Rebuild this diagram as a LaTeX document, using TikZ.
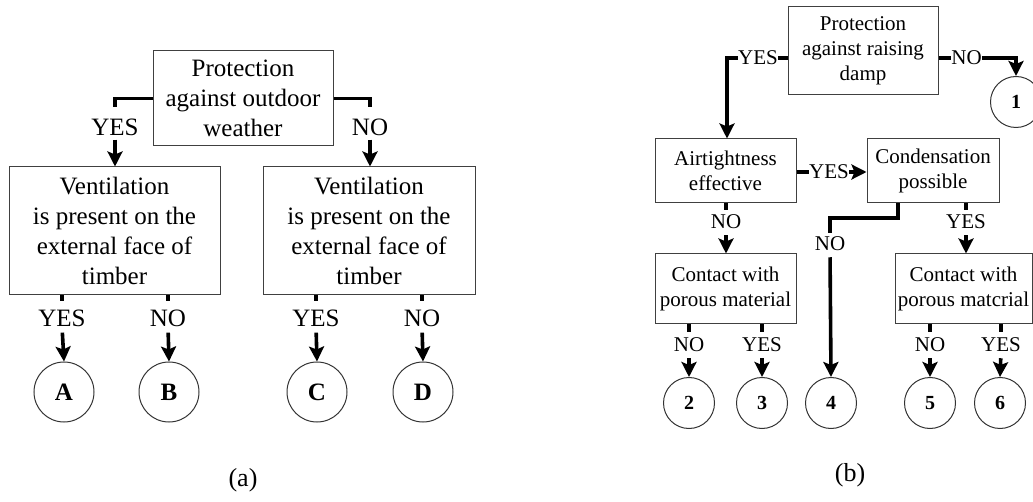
\documentclass[tikz,border=0pt]{standalone}
\usepackage{fontspec}
\setmainfont{Liberation Serif}
\usetikzlibrary{arrows.meta}
\begin{document}
\begin{tikzpicture}[x=1pt,y=-1pt,
  boxA/.style={draw=black!75,line width=1pt,fill=white,align=center,inner sep=0pt,font=\fontsize{25}{30}\selectfont},
  boxB/.style={draw=black!75,line width=1pt,fill=white,align=center,inner sep=0pt,font=\fontsize{21}{25}\selectfont},
  circA/.style={draw=black!80,line width=1pt,circle,minimum size=60pt,inner sep=0pt,font=\fontsize{25}{30}\selectfont\bfseries},
  circB/.style={draw=black!80,line width=1pt,circle,minimum size=51pt,inner sep=0pt,font=\fontsize{20}{24}\selectfont\bfseries},
  lblA/.style={inner sep=0pt,font=\fontsize{25}{30}\selectfont},
  lblB/.style={inner sep=0pt,font=\fontsize{21}{25}\selectfont},
  conn/.style={line width=3.6pt},
  arr/.style={line width=3.6pt,-{Stealth[length=15pt,width=15pt,inset=3pt]}},
  captext/.style={inner sep=0pt,font=\fontsize{26}{30}\selectfont}
]
\useasboundingbox (0,0) rectangle (1033,502);

% ---------------- (a) ----------------
\node[boxA,minimum width=180pt,minimum height=95pt] (t1) at (243,98.5) {Protection\\against outdoor\\weather};
\node[boxA,minimum width=211pt,minimum height=128pt] (v1) at (114.5,231) {Ventilation\\is present on the\\external face of\\timber};
\node[boxA,minimum width=212pt,minimum height=128pt] (v2) at (369,231) {Ventilation\\is present on the\\external face of\\timber};

\node[lblA] (ya) at (115,127) {YES};
\node[lblA] (na) at (370,127) {NO};
\draw[conn,shorten >=11pt] (t1.west) -| (ya.north);
\draw[arr,shorten <=4pt] (ya.south) -- (v1.north -| ya);
\draw[conn,shorten >=11pt] (t1.east) -| (na.north);
\draw[arr,shorten <=4pt] (na.south) -- (v2.north -| na);

\node[circA] (A) at (64,392) {A};
\node[circA] (B) at (169,392) {B};
\node[circA] (C) at (317,392) {C};
\node[circA] (D) at (423,392) {D};

\node[lblA] (ly1) at (62,318) {YES};
\node[lblA] (ln1) at (168,318) {NO};
\node[lblA] (ly2) at (316,318) {YES};
\node[lblA] (ln2) at (422,318) {NO};
\foreach \l/\b/\c in {ly1/v1/A, ln1/v1/B, ly2/v2/C, ln2/v2/D}{
  \draw[conn,shorten >=8pt] (\b.south -| \l) -- (\l.north);
  \draw[arr,shorten <=6pt] (\l.south) -- (\c.north);
}

\node[captext] (capa) at (243,480) {(a)};

% ---------------- (b) ----------------
\node[boxB,minimum width=150pt,minimum height=88pt] (t2) at (863,51) {Protection\\against raising\\damp};
\node[boxB,minimum width=141pt,minimum height=64pt] (air) at (725.5,171) {Airtightness\\effective};
\node[boxB,minimum width=132pt,minimum height=64pt] (cond) at (933,171) {Condensation\\possible};
\node[boxB,minimum width=141pt,minimum height=70pt] (cp1) at (725.5,289) {Contact with\\porous material};
\node[boxB,minimum width=137pt,minimum height=70pt] (cp2) at (963.5,289) {Contact with\\porous matcrial};

\node[circB] (n1) at (1016,102) {1};
\node[circB] (n2) at (689,403) {2};
\node[circB] (n3) at (762,403) {3};
\node[circB] (n4) at (831,403) {4};
\node[circB] (n5) at (930,403) {5};
\node[circB] (n6) at (1000,403) {6};

% top YES / NO
\node[lblB] (yt) at (758,58) {YES};
\node[lblB] (nt) at (966.5,58) {NO};
\coordinate (ct) at (727,58);
\coordinate (cn) at (1016,58);
\draw[conn] (t2.west |- yt) -- (yt.east);
\draw[arr] (yt.west) -- (ct) -- (air.north -| ct);
\draw[conn] (t2.east |- nt) -- (nt.west);
\draw[arr] (nt.east) -- (cn) -- (n1.north);

% airtightness YES -> condensation
\node[lblB] (ym) at (829,172) {YES};
\draw[conn] (air.east |- ym) -- (ym.west);
\draw[arr] (ym.east) -- (cond.west |- ym);

% airtightness NO
\node[lblB] (na2) at (726,222) {NO};
\draw[conn,shorten >=5pt] (air.south -| na2) -- (na2.north);
\draw[arr,shorten <=6pt] (na2.south) -- (cp1.north -| na2);

% condensation YES
\node[lblB] (yc) at (966,222) {YES};
\draw[conn,shorten >=5pt] (cond.south -| yc) -- (yc.north);
\draw[arr,shorten <=6pt] (yc.south) -- (cp2.north -| yc);

% condensation NO -> 4
\node[lblB] (nc) at (830,244) {NO};
\coordinate (cc1) at (898,203);
\coordinate (cc2) at (898,218);
\draw[conn,shorten >=4pt] (cc1) -- (cc2) -| (nc.north);
\draw[arr,shorten <=6pt] (nc.south) -- (n4.north);

% contact boxes
\node[lblB] (l2) at (689,345) {NO};
\node[lblB] (l3) at (762,345) {YES};
\node[lblB] (l5) at (930,345) {NO};
\node[lblB] (l6) at (1001,345) {YES};
\foreach \l/\b/\c in {l2/cp1/n2, l3/cp1/n3, l5/cp2/n5, l6/cp2/n6}{
  \draw[conn,shorten >=6pt] (\b.south -| \l) -- (\l.north);
  \draw[arr,shorten <=6pt] (\l.south) -- (\c.north);
}

\node[captext] (capb) at (850,475) {(b)};
\end{tikzpicture}
\end{document}
